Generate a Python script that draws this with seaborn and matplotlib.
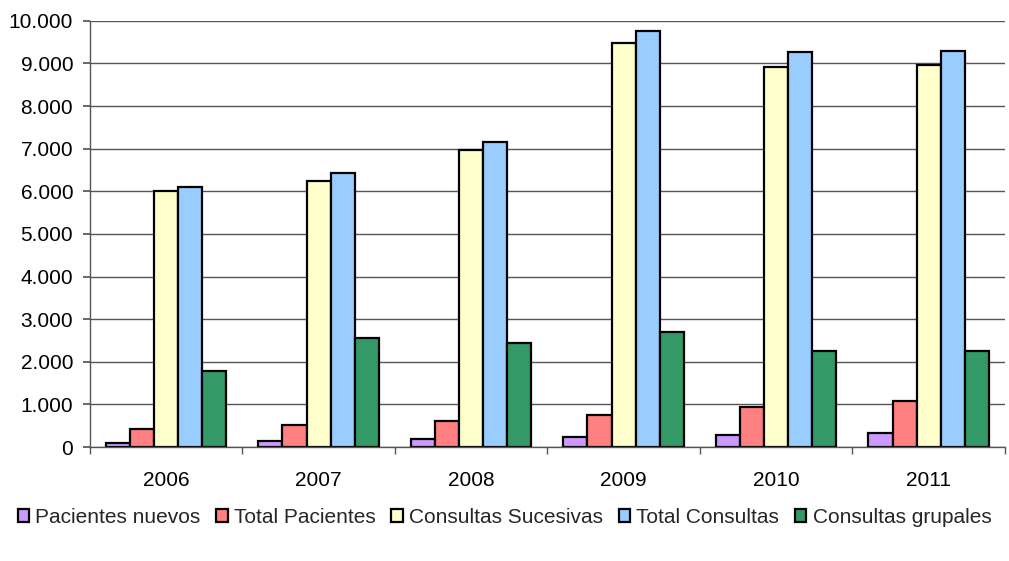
import numpy as np
import pandas as pd
import seaborn as sns
import matplotlib.pyplot as plt
from matplotlib.ticker import FuncFormatter, FixedLocator

# Datos
anios = ["2006", "2007", "2008", "2009", "2010", "2011"]
pacientes_nuevos = [100, 150, 190, 240, 280, 335]
total_pacientes = [430, 520, 620, 760, 940, 1090]
consultas_sucesivas = [6010, 6240, 6970, 9480, 8920, 8970]
total_consultas = [6100, 6430, 7150, 9770, 9260, 9300]
consultas_grupales = [1790, 2550, 2440, 2690, 2250, 2250]

series = ["Pacientes nuevos", "Total Pacientes", "Consultas Sucesivas",
          "Total Consultas", "Consultas grupales"]
colores = ["#CC99FF", "#FF8080", "#FFFFCC", "#99CCFF", "#339966"]

valores = [pacientes_nuevos, total_pacientes, consultas_sucesivas,
           total_consultas, consultas_grupales]
dados = pd.DataFrame({
    "Año": np.tile(anios, len(series)),
    "Serie": np.repeat(series, len(anios)),
    "Valor": np.concatenate(valores),
})

sns.set_theme(style="white")
plt.rcParams["font.family"] = ["Liberation Sans", "DejaVu Sans"]

fig = plt.figure(figsize=(10.09, 5.61), dpi=100)
ax = fig.add_axes([0.089, 0.203, 0.907, 0.760])

sns.barplot(data=dados, x="Año", y="Valor", hue="Serie", hue_order=series,
            palette=colores, width=0.79, edgecolor="black", linewidth=1.6,
            saturation=1, legend=True, ax=ax)

ax.set_ylim(0, 10000)
ax.set_xlim(-0.5, 5.5)
ax.set_yticks(range(0, 10001, 1000))
ax.yaxis.set_major_formatter(FuncFormatter(lambda v, p: f"{int(v):,}".replace(",", ".")))
ax.grid(axis="y", color="#555555", linewidth=1)
ax.set_axisbelow(True)
ax.set_xlabel("")
ax.set_ylabel("")

for s in ["top", "right"]:
    ax.spines[s].set_visible(False)
for s in ["left", "bottom"]:
    ax.spines[s].set_color("#555555")
    ax.spines[s].set_linewidth(1)

ax.tick_params(axis="y", left=True, length=5, color="#555555", labelsize=15, pad=7,
               labelcolor="black")
ax.tick_params(axis="x", which="major", length=0, labelsize=15, pad=17, labelcolor="black")
ax.xaxis.set_minor_locator(FixedLocator(np.arange(-0.5, 6, 1)))
ax.tick_params(axis="x", which="minor", bottom=True, length=5, color="#555555")

handles, labels = ax.get_legend_handles_labels()
ax.get_legend().remove()
fig.legend(handles, labels, loc="center", bbox_to_anchor=(0.5, 0.078), ncol=5,
           frameon=False, fontsize=15, handlelength=0.55, handleheight=0.55,
           handletextpad=0.3, columnspacing=0.75, borderaxespad=0)

fig.savefig("out.png", dpi=100)
